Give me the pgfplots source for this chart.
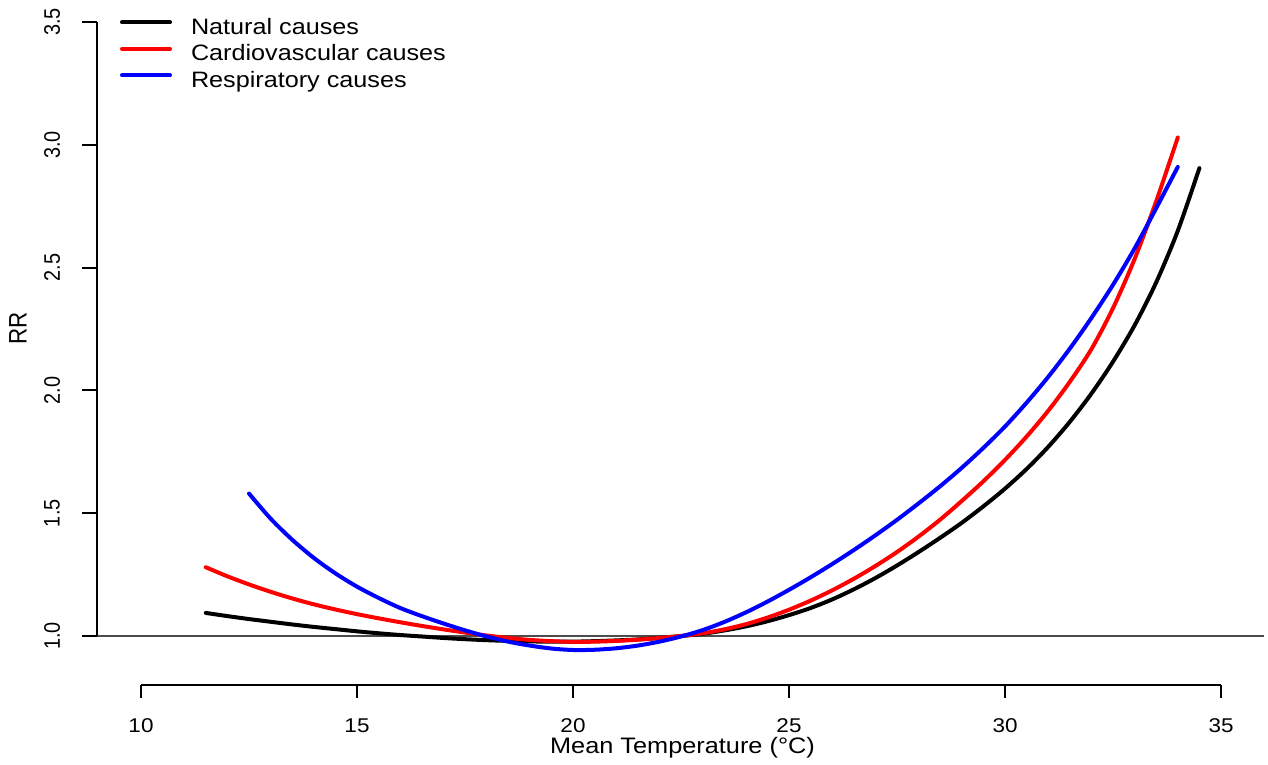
\documentclass[border=0pt]{standalone}
\usepackage{fontspec}
\setmainfont{Liberation Sans}[FakeStretch=1.13]
\newfontfamily\rotfont{Liberation Sans}
\usepackage{graphicx}
\usepackage{pgfplots}
\pgfplotsset{compat=1.18}
\usepackage{pgfplotstable}

\pgfplotstableread{
x y
11.5 1.094
12 1.081
12.5 1.069
13 1.058
13.5 1.047
14 1.037
14.5 1.028
15 1.019
15.5 1.011
16 1.004
16.5 0.998
17 0.992
17.5 0.987
18 0.983
18.5 0.980
19 0.978
19.5 0.977
20 0.977
20.5 0.979
21 0.982
21.5 0.986
22 0.992
22.5 1.000
23 1.009
23.5 1.0225
24 1.039
24.5 1.060
25 1.085
25.5 1.114
26 1.149
26.5 1.190
27 1.236
27.5 1.287
28 1.342
28.5 1.400
29 1.461
29.5 1.528
30 1.600
30.5 1.680
31 1.770
31.5 1.872
32 1.987
32.5 2.117
33 2.265
33.5 2.440
34 2.650
34.5 2.905
}\natural

\pgfplotstableread{
x y
11.5 1.280
12 1.243
12.5 1.210
13 1.180
13.5 1.153
14 1.129
14.5 1.108
15 1.089
15.5 1.072
16 1.056
16.5 1.041
17 1.027
17.5 1.014
18 1.002
18.5 0.992
19 0.984
19.5 0.979
20 0.976
20.5 0.977
21 0.980
21.5 0.985
22 0.992
22.5 1.000
23 1.011
23.5 1.027
24 1.048
24.5 1.075
25 1.107
25.5 1.144
26 1.186
26.5 1.233
27 1.285
27.5 1.342
28 1.405
28.5 1.474
29 1.550
29.5 1.630
30 1.717
30.5 1.812
31 1.917
31.5 2.035
32 2.168
32.5 2.335
33 2.535
33.5 2.770
34 3.030
}\cardio

\pgfplotstableread{
x y
12.5 1.580
13 1.478
13.5 1.392
14 1.318
14.5 1.255
15 1.201
15.5 1.155
16 1.114
16.5 1.081
17 1.051
17.5 1.023
18 0.998
18.5 0.977
19 0.961
19.5 0.949
20 0.943
20.5 0.944
21 0.950
21.5 0.961
22 0.977
22.5 0.998
23 1.024
23.5 1.057
24 1.096
24.5 1.140
25 1.188
25.5 1.239
26 1.293
26.5 1.350
27 1.410
27.5 1.473
28 1.540
28.5 1.610
29 1.685
29.5 1.766
30 1.853
30.5 1.950
31 2.055
31.5 2.170
32 2.295
32.5 2.430
33 2.578
33.5 2.742
34 2.910
}\resp

\newcommand\ticksize{\fontsize{9.95}{12}\selectfont}
\newcommand\labsize{\fontsize{11.2}{13}\selectfont}

\begin{document}
\begin{tikzpicture}
\begin{axis}[
  scale only axis,
  x=21.6pt, y=122.8pt,
  xmin=6.736, xmax=36.088, ymin=0.4748, ymax=3.5896,
  hide axis, clip=false,
  legend style={at={(axis cs:9.514,3.520)}, anchor=north west,
    draw=none, fill=none, inner sep=0pt, outer sep=0pt,
    row sep=0pt, column sep=0pt,
    font=\fontsize{11.15}{13}\selectfont,
    nodes={inner sep=0pt, outer sep=0pt, text height=8.5pt, text depth=4.75pt}},
  legend cell align=left,
  legend image code/.code={\draw[#1, line width=2pt] (0pt,4pt) -- (24pt,4pt); \path[draw=none, fill=none] (0pt,0pt) -- (34.5pt,0pt);},
]
\draw[black!70, line width=1.2pt] (axis cs:8.634,1) -- (axis cs:36.0,1);

\addplot[black, line width=2pt, line cap=round, smooth] table {\natural};
\addlegendentry{Natural causes}
\addplot[red, line width=2pt, line cap=round, smooth] table {\cardio};
\addlegendentry{Cardiovascular causes}
\addplot[blue, line width=2pt, line cap=round, smooth] table {\resp};
\addlegendentry{Respiratory causes}

% y axis
\draw[line width=0.9pt] (axis cs:8.981,1) -- (axis cs:8.981,3.5);
\draw[line width=0.9pt] (axis cs:8.981,1) -- (axis cs:8.634,1);
\draw[line width=0.9pt] (axis cs:8.981,1.5) -- (axis cs:8.634,1.5);
\draw[line width=0.9pt] (axis cs:8.981,2) -- (axis cs:8.634,2);
\draw[line width=0.9pt] (axis cs:8.981,2.5) -- (axis cs:8.634,2.5);
\draw[line width=0.9pt] (axis cs:8.981,3) -- (axis cs:8.634,3);
\draw[line width=0.9pt] (axis cs:8.981,3.5) -- (axis cs:8.634,3.5);
\node[rotate=90] at (axis cs:7.94,1) {\rotfont\ticksize\scalebox{1}[1.13]{1.0}};
\node[rotate=90] at (axis cs:7.94,1.5) {\rotfont\ticksize\scalebox{1}[1.13]{1.5}};
\node[rotate=90] at (axis cs:7.94,2) {\rotfont\ticksize\scalebox{1}[1.13]{2.0}};
\node[rotate=90] at (axis cs:7.94,2.5) {\rotfont\ticksize\scalebox{1}[1.13]{2.5}};
\node[rotate=90] at (axis cs:7.94,3) {\rotfont\ticksize\scalebox{1}[1.13]{3.0}};
\node[rotate=90] at (axis cs:7.94,3.5) {\rotfont\ticksize\scalebox{1}[1.13]{3.5}};
\node[rotate=90] at (axis cs:7.153,2.254) {\rotfont\labsize\scalebox{1}[1.13]{RR}};

% x axis
\draw[line width=0.9pt] (axis cs:10,0.8005) -- (axis cs:35,0.8005);
\draw[line width=0.9pt] (axis cs:10,0.8005) -- (axis cs:10,0.7476);
\draw[line width=0.9pt] (axis cs:15,0.8005) -- (axis cs:15,0.7476);
\draw[line width=0.9pt] (axis cs:20,0.8005) -- (axis cs:20,0.7476);
\draw[line width=0.9pt] (axis cs:25,0.8005) -- (axis cs:25,0.7476);
\draw[line width=0.9pt] (axis cs:30,0.8005) -- (axis cs:30,0.7476);
\draw[line width=0.9pt] (axis cs:35,0.8005) -- (axis cs:35,0.7476);
\node at (axis cs:10,0.6336) {\ticksize 10};
\node at (axis cs:15,0.6336) {\ticksize 15};
\node at (axis cs:20,0.6336) {\ticksize 20};
\node at (axis cs:25,0.6336) {\ticksize 25};
\node at (axis cs:30,0.6336) {\ticksize 30};
\node at (axis cs:35,0.6336) {\ticksize 35};
\node at (axis cs:22.535,0.544) {\labsize Mean Temperature (°C)};
\end{axis}
\pgfresetboundingbox
\path (current axis.south west) rectangle (current axis.north east);
\end{tikzpicture}
\end{document}
